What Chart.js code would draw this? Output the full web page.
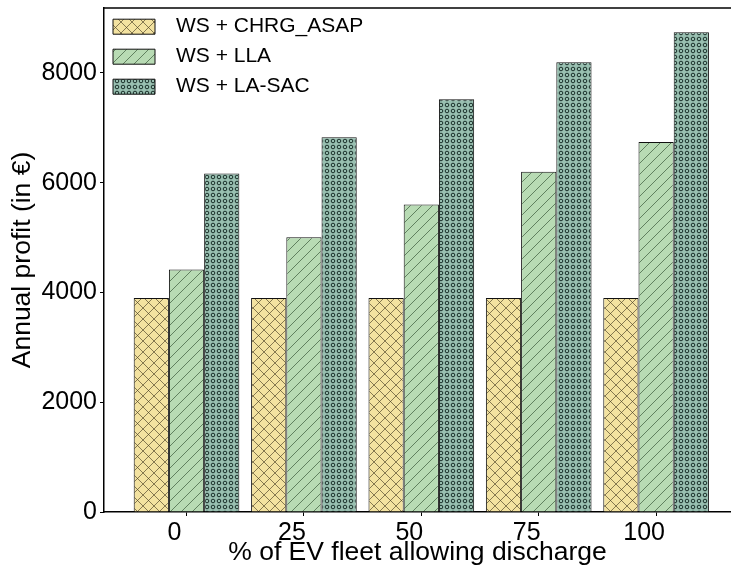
<!DOCTYPE html>
<html lang="en">
<head>
<meta charset="UTF-8" />
<title>Annual profit vs EV fleet discharge share</title>
<script src="https://cdn.jsdelivr.net/npm/chart.js"></script>
<style>
  html, body { margin: 0; padding: 0; background: #fff; }
  #wrap { width: 731px; height: 566px; }
</style>
</head>
<body>
<div id="wrap"><canvas id="profitChart"></canvas></div>
<script>
// data
const fleetShare = ["0", "25", "50", "75", "100"];
const chrgAsap = [3900, 3900, 3900, 3900, 3900];
const lla = [4420, 5005, 5605, 6200, 6740];
const laSac = [6170, 6830, 7520, 8195, 8740];
const yTicks = [0, 2000, 4000, 6000, 8000];

const FONT = "'Liberation Sans', Arial, sans-serif";

// hatch patterns like matplotlib's 'xx', '//', 'oo'
function makePattern(bg, kind) {
  const c = document.createElement("canvas");
  const size = kind === "circles" ? 6 : 11;
  c.width = size; c.height = size;
  const g = c.getContext("2d");
  g.fillStyle = bg;
  g.fillRect(0, 0, size, size);
  if (kind === "cross") {
    g.strokeStyle = "rgba(70,60,35,0.8)";
    g.lineWidth = 0.8;
    g.beginPath();
    g.moveTo(0, 0); g.lineTo(size, size);
    g.moveTo(0, size); g.lineTo(size, 0);
    g.stroke();
  } else if (kind === "diag") {
    g.strokeStyle = "rgba(45,75,45,0.8)";
    g.lineWidth = 0.8;
    g.beginPath();
    g.moveTo(0, size); g.lineTo(size, 0);
    g.moveTo(-1, 1); g.lineTo(1, -1);
    g.moveTo(size - 1, size + 1); g.lineTo(size + 1, size - 1);
    g.stroke();
  } else {
    g.strokeStyle = "#1a302a";
    g.lineWidth = 1;
    g.beginPath();
    g.arc(3, 3, 1.8, 0, Math.PI * 2);
    g.stroke();
  }
  return g.createPattern(c, "repeat");
}

function toPoints(arr) {
  return arr.map((v, i) => ({ x: i, y: v }));
}

const topSpine = {
  id: "topSpine",
  afterDraw(chart) {
    const { ctx, chartArea } = chart;
    ctx.save();
    ctx.strokeStyle = "#000";
    ctx.lineWidth = 1.5;
    ctx.beginPath();
    ctx.moveTo(chartArea.left, chartArea.top);
    ctx.lineTo(chartArea.right, chartArea.top);
    ctx.stroke();
    ctx.restore();
  }
};

const ctx = document.getElementById("profitChart").getContext("2d");
new Chart(ctx, {
  type: "bar",
  data: {
    datasets: [
      {
        label: "WS + CHRG_ASAP",
        data: toPoints(chrgAsap),
        backgroundColor: makePattern("#f3e2a0", "cross"),
        borderColor: "#111",
        borderWidth: 1
      },
      {
        label: "WS + LLA",
        data: toPoints(lla),
        backgroundColor: makePattern("#b8dbb4", "diag"),
        borderColor: "#111",
        borderWidth: 1
      },
      {
        label: "WS + LA-SAC",
        data: toPoints(laSac),
        backgroundColor: makePattern("#98bfb0", "circles"),
        borderColor: "#111",
        borderWidth: 1
      }
    ]
  },
  options: {
    responsive: true,
    maintainAspectRatio: false,
    animation: false,
    layout: { padding: { top: 8, right: 0, left: 0, bottom: 0 } },
    datasets: { bar: { barPercentage: 1, categoryPercentage: 0.9 } },
    plugins: {
      legend: {
        position: "chartArea",
        align: "start",
        title: { display: true, text: "", font: { size: 1 }, padding: { top: 6, bottom: 0 } },
        labels: {
          color: "#000",
          font: { family: FONT, size: 21 },
          boxWidth: 42,
          boxHeight: 15,
          padding: 9,
          generateLabels: (chart) =>
            Chart.defaults.plugins.legend.labels.generateLabels(chart)
              .map((l) => ({ ...l, text: "\u2002" + l.text }))
        }
      },
      tooltip: { enabled: false }
    },
    scales: {
      x: {
        type: "linear",
        offset: false,
        min: -0.703,
        max: 4.638,
        afterBuildTicks: (s) => { s.ticks = fleetShare.map((_, i) => ({ value: i })); },
        afterFit: (s) => { s.height = 54; },
        ticks: {
          color: "#000",
          font: { family: FONT, size: 25 },
          padding: 2,
          labelOffset: -12,
          maxRotation: 0,
          callback: (v) => fleetShare[v]
        },
        grid: { offset: false, drawOnChartArea: false, drawTicks: true, tickLength: 4, color: "#000" },
        border: { color: "#000", width: 1.5 },
        title: {
          display: true,
          text: "% of EV fleet allowing discharge",
          color: "#000",
          font: { family: FONT, size: 26.5 },
          padding: { top: 0, bottom: -3 }
        }
      },
      y: {
        min: 0,
        max: 9184,
        afterBuildTicks: (s) => { s.ticks = yTicks.map((v) => ({ value: v })); },
        afterFit: (s) => { s.width = 104; },
        ticks: {
          color: "#000",
          font: { family: FONT, size: 25, lineHeight: 0.3 },
          padding: 3,
          callback: (v) => String(v)
        },
        grid: { drawOnChartArea: false, drawTicks: true, tickLength: 4, color: "#000" },
        border: { color: "#000", width: 1.5 },
        title: {
          display: true,
          text: "Annual profit (in €)",
          color: "#000",
          font: { family: FONT, size: 26.5 },
          padding: { top: 7, bottom: 0 }
        }
      }
    }
  },
  plugins: [topSpine]
});
</script>
</body>
</html>
